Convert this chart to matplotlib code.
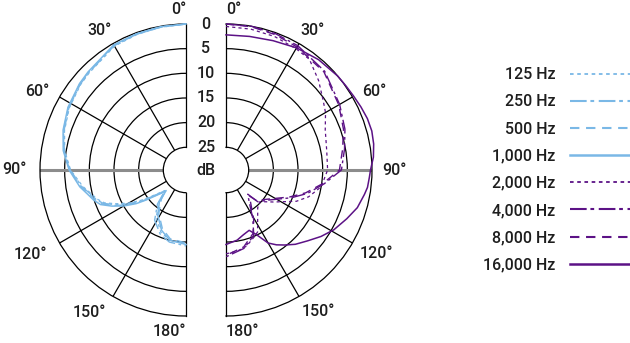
import numpy as np
import matplotlib
matplotlib.use("Agg")
import matplotlib.pyplot as plt
import matplotlib.transforms as mtransforms
from matplotlib.lines import Line2D

plt.rcParams['font.family'] = ['Roboto', 'Liberation Sans', 'DejaVu Sans']
plt.rcParams['font.weight'] = 'medium'
plt.rcParams['text.color'] = '#1e1e1e'

# attenuation (dB below on-axis), angle in degrees
# low frequencies -> left half
ang_low = [0, 10, 20, 30, 38, 45, 51, 62, 72, 81, 90, 99, 104, 108, 112, 116, 120, 124, 127, 134, 136, 140, 148, 158, 167, 180]
db_1000 = [0, 0.1, 0.2, 0.3, 1.2, 1.5, 1.8, 2.5, 3.4, 4.4, 5.9, 7.8, 9.1, 9.9, 10.9, 12.9, 15.0, 17.4, 19.5, 23.0, 23.8, 21.2, 18.8, 16.4, 15.0, 14.5]
db_500 = [0, 0.1, 0.3, 0.4, 1.3, 1.6, 1.9, 2.6, 3.5, 4.5, 6.0, 8.0, 9.4, 10.2, 11.2, 13.2, 15.4, 17.8, 19.8, 23.2, 23.5, 21.8, 19.2, 16.8, 15.3, 14.8]
db_250 = [0, 0.2, 0.3, 0.5, 1.4, 1.7, 2.0, 2.7, 3.6, 4.6, 6.1, 8.2, 9.6, 10.4, 11.5, 13.6, 15.8, 18.2, 20.2, 23.4, 23.0, 20.6, 17.6, 15.6, 14.6, 14.2]
db_125 = [0, 0.2, 0.4, 0.6, 1.5, 1.8, 2.1, 2.8, 3.7, 4.7, 6.2, 8.4, 9.8, 10.6, 11.8, 14.0, 16.2, 18.6, 20.6, 23.6, 23.2, 21.0, 18.2, 16.0, 15.0, 14.6]

# high frequencies -> right half
ang_2000 = [0, 10, 20, 30, 37, 46, 54, 60, 68, 79, 90, 100, 108, 114, 124, 133, 140, 145, 153, 157, 165, 172, 180]
db_2000 = [0.5, 0.6, 0.8, 1.2, 1.5, 3.5, 5.3, 6.3, 7.9, 8.8, 9.0, 10.0, 12.0, 14.0, 18.0, 20.2, 19.6, 18.4, 15.5, 14.9, 13.6, 13.0, 12.6]
ang_mid = [0, 10, 20, 30, 45, 60, 71, 80, 90, 98, 106, 113, 126, 135, 138, 144, 151, 157, 167, 180]
db_4000 = [0, 0, 0.2, 0.5, 1.3, 3.0, 4.1, 5.2, 6.2, 9.5, 12.4, 15.2, 19.2, 20.5, 23.0, 21.6, 18.4, 15.2, 13.3, 12.0]
db_8000 = [0, 0.1, 0.4, 0.8, 1.5, 3.2, 4.4, 5.6, 6.6, 9.8, 12.8, 15.6, 19.5, 20.8, 22.5, 21.0, 18.0, 15.6, 13.6, 12.3]
ang_16000 = [0, 10, 20, 30, 40, 50, 55, 60, 65, 70, 75, 80, 85, 90, 93, 97, 100, 106, 112, 119, 125, 131, 137, 142, 146, 150, 155, 159, 165, 171, 180]
db_16000 = [2.2, 2.1, 1.7, 1.0, 0.4, 0.0, -0.1, -0.3, -0.6, -0.9, -1.0, -0.8, -0.4, 0.3, 0.5, 0.7, 1.1, 1.9, 3.2, 4.6, 6.1, 7.7, 9.0, 10.3, 11.3, 12.5, 15.2, 16.5, 16.0, 15.2, 14.5]

ring_db = [0, 5, 10, 15, 20, 25]
angle_labels = ['0°', '30°', '60°', '90°', '120°', '150°', '180°']
legend_labels = ['125 Hz', '250 Hz', '500 Hz', '1,000 Hz', '2,000 Hz', '4,000 Hz', '8,000 Hz', '16,000 Hz']

blue = '#7ab8e6'
purple = '#5c1286'
styles = [(0, (2.5, 2.5)), (0, (10, 2.5, 2, 2.5)), (0, (6, 4)), '-']

W, H = 630, 343
fig = plt.figure(figsize=(W / 100, H / 100), dpi=100)

R_ORIG = -29.6
PX = 146 / 29.6  # pixels per dB


def make_half(rect, direction):
    ax = fig.add_axes(rect, projection='polar')
    ax.set_theta_zero_location('N')
    ax.set_theta_direction(direction)
    ax.set_thetamin(0)
    ax.set_thetamax(180)
    ax.set_ylim(-25, 0)
    ax.set_rorigin(R_ORIG)
    ax.patch.set_facecolor('none')
    ax.set_yticks([-20, -15, -10, -5])
    ax.set_xticks(np.deg2rad([30, 60, 120, 150]))
    ax.xaxis.set_ticklabels([])
    ax.yaxis.set_ticklabels([])
    ax.tick_params(length=0)
    ax.grid(True, color='black', lw=0.9)
    ax.axvline(np.deg2rad(90), color='#8c8c8c', lw=2.2, zorder=1.6)
    for sp in ax.spines.values():
        sp.set_color('black')
        sp.set_linewidth(0.9)
    return ax


axL = make_half([-33 / W, 27 / H, 292 / W, 292 / H], 1)
axR = make_half([153 / W, 27 / H, 292 / W, 292 / H], -1)


def draw(ax, ang, db, color, ls, lw):
    ax.plot(np.deg2rad(ang), -np.array(db), color=color, ls=ls, lw=lw, clip_on=False, zorder=3)


draw(axL, ang_low, db_125, blue, styles[0], 0.9)
draw(axL, ang_low, db_250, blue, styles[1], 1.0)
draw(axL, ang_low, db_500, blue, styles[2], 1.0)
draw(axL, ang_low, db_1000, blue, styles[3], 1.1)
draw(axR, ang_2000, db_2000, purple, styles[0], 0.9)
draw(axR, ang_mid, db_4000, purple, styles[1], 1.0)
draw(axR, ang_mid, db_8000, purple, styles[2], 1.0)
draw(axR, ang_16000, db_16000, purple, styles[3], 1.1)


def r_at(px):
    return R_ORIG + px / PX


fs = 11.5
left_pos = [(0, 161, 'right'), (32, 164, 'center'), (62, 168, 'center'), (90, 172, 'center'),
            (118.6, 177, 'center'), (145.7, 172, 'center'), (180, 162, 'right')]
right_pos = [(0, 161, 'left'), (32, 164, 'center'), (62, 168, 'center'), (90, 168, 'center'),
             (119, 172, 'center'), (147, 169, 'center'), (180, 162, 'left')]
for lab, (a, rp, ha) in zip(angle_labels, left_pos):
    axL.text(np.deg2rad(a), r_at(rp), lab, ha=ha, va='center', fontsize=fs, clip_on=False)
for lab, (a, rp, ha) in zip(angle_labels, right_pos):
    axR.text(np.deg2rad(a), r_at(rp), lab, ha=ha, va='center', fontsize=fs, clip_on=False)

# dB ring labels between the halves
trans = mtransforms.offset_copy(axL.transData, fig=fig, x=20, y=0, units='dots')
for d in ring_db:
    axL.text(0, -d, str(d), transform=trans, ha='center', va='center', fontsize=fs, clip_on=False)
axL.text(0, R_ORIG, 'dB', transform=trans, ha='center', va='center', fontsize=fs, clip_on=False)

# legend
leg_styles = [(0, (2, 2)), (0, (8, 1.8, 1.8, 2.2)), (0, (4.5, 3.2)), '-']
handles = []
for c in [blue, purple]:
    for i, s in enumerate(leg_styles):
        handles.append(Line2D([], [], color=c, ls=s, lw=1.5 if i in (1, 2) else (1.3 if i == 0 else 1.8)))
fig.legend(handles, legend_labels, loc='center right', bbox_to_anchor=(1.0, 0.505),
           markerfirst=False, frameon=False, fontsize=fs, handlelength=3.75,
           handletextpad=0.94, labelspacing=0.76, borderpad=0, borderaxespad=0)

fig.savefig('out.png', dpi=100)
